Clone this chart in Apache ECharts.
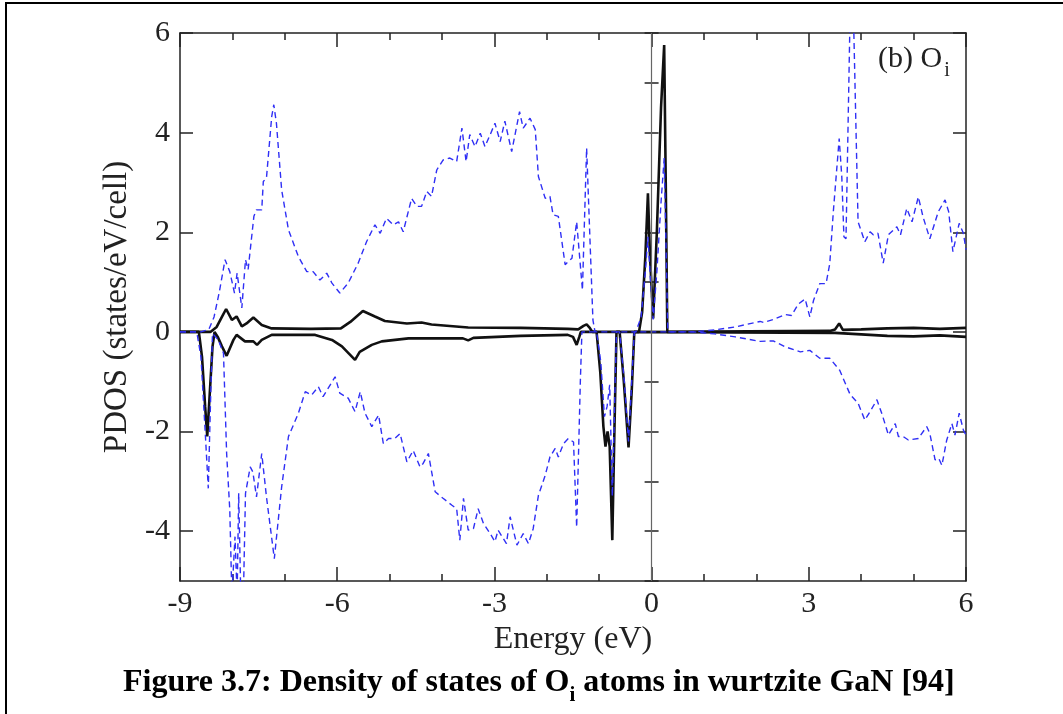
<!DOCTYPE html>
<html>
<head>
<meta charset="utf-8">
<script src="https://cdn.jsdelivr.net/npm/echarts@6/dist/echarts.min.js"></script>
<style>
  html, body { margin: 0; padding: 0; background: #fff; }
  #wrap { position: relative; width: 1063px; height: 714px; overflow: hidden; }
  #chart { position: absolute; left: 0; top: 0; width: 1063px; height: 714px; }
  #frame { position: absolute; left: 5px; top: 2px; width: 1100px; height: 800px;
           border-left: 2px solid #000; border-top: 2px solid #000; pointer-events: none; }
</style>
</head>
<body>
<div id="wrap">
  <div id="chart"></div>
  <div id="frame"></div>
</div>
<script>
// ---- Data ----
const xTicks = [-9, -6, -3, 0, 3, 6];
const yTickLabels = [-4, -2, 0, 2, 4, 6];

// Total PDOS, spin up (blue dashed, positive)
const totUpE = [-9.0,-8.6,-8.45,-8.35,-8.25,-8.14,-8.05,-7.96,-7.91,-7.82,-7.75,-7.70,-7.59,-7.54,-7.44,-7.41,-7.35,-7.25,-7.21,-7.16,-7.06,-6.93,-6.74,-6.58,-6.46,-6.33,-6.20,-6.10,-5.95,-5.79,-5.60,-5.44,-5.28,-5.18,-5.06,-4.93,-4.83,-4.74,-4.58,-4.48,-4.39,-4.29,-4.20,-4.10,-3.98,-3.85,-3.72,-3.62,-3.54,-3.47,-3.37,-3.27,-3.18,-3.08,-2.99,-2.89,-2.80,-2.67,-2.52,-2.45,-2.32,-2.22,-2.16,-2.03,-1.94,-1.88,-1.78,-1.65,-1.52,-1.43,-1.32,-1.24,-1.12,-1.08,-0.30,-0.20,-0.12,-0.07,-0.02,0.03,0.10,0.18,0.24,0.28,0.31,0.80,1.20,1.60,2.07,2.14,2.35,2.55,2.67,2.80,2.93,3.02,3.09,3.21,3.33,3.40,3.47,3.58,3.63,3.67,3.71,3.79,3.83,3.86,3.94,4.07,4.17,4.23,4.32,4.42,4.52,4.68,4.75,4.87,4.97,5.09,5.18,5.31,5.47,5.60,5.67,5.75,5.87,5.95,6.0];
const totUpV = [0,0,0.05,0.3,0.8,1.45,1.21,0.78,1.18,0.48,1.45,1.25,2.32,2.45,2.45,3.02,3.09,4.32,4.56,4.19,2.85,2.05,1.51,1.21,1.21,1.04,1.18,0.98,0.78,0.98,1.38,1.81,2.15,1.98,2.28,2.15,2.21,2.01,2.68,2.52,2.52,2.82,2.72,3.25,3.45,3.49,3.42,4.09,3.42,3.96,3.72,3.99,3.72,3.96,4.19,3.82,4.23,3.62,4.42,4.09,4.29,4.06,3.12,2.68,2.72,2.35,2.32,1.35,1.48,2.21,0.84,3.69,0.24,0,0,0.3,1.2,1.91,1.0,0.25,1.2,2.6,3.49,1.5,0,0,0.04,0.1,0.21,0.19,0.26,0.35,0.33,0.56,0.66,0.30,0.63,0.97,0.97,1.37,2.44,3.88,3.11,1.91,1.87,6.5,6.6,6.0,2.21,1.81,2.01,1.95,1.98,1.38,1.95,2.11,1.95,2.48,2.21,2.71,2.31,1.87,2.41,2.65,2.41,1.61,2.18,1.98,1.65];

// Total PDOS, spin down (blue dashed, negative)
const totDnE = [-9.0,-8.68,-8.60,-8.53,-8.46,-8.42,-8.38,-8.27,-8.17,-8.11,-8.05,-8.01,-7.95,-7.91,-7.88,-7.84,-7.79,-7.75,-7.66,-7.61,-7.54,-7.44,-7.35,-7.20,-7.06,-6.93,-6.74,-6.61,-6.49,-6.36,-6.27,-6.04,-5.95,-5.79,-5.66,-5.56,-5.47,-5.34,-5.21,-5.12,-5.02,-4.90,-4.80,-4.67,-4.55,-4.42,-4.36,-4.26,-4.13,-3.98,-3.81,-3.72,-3.66,-3.59,-3.50,-3.40,-3.31,-3.21,-3.08,-2.99,-2.93,-2.77,-2.70,-2.57,-2.45,-2.35,-2.26,-2.16,-2.03,-1.94,-1.84,-1.78,-1.68,-1.59,-1.49,-1.43,-1.36,-1.33,-1.05,-0.97,-0.90,-0.85,-0.80,-0.75,-0.70,-0.67,-0.61,-0.52,-0.44,-0.38,-0.33,0.80,1.20,1.60,2.07,2.32,2.55,2.84,3.02,3.21,3.40,3.59,3.79,3.94,4.07,4.17,4.30,4.40,4.52,4.65,4.71,4.80,4.90,5.09,5.25,5.31,5.41,5.48,5.54,5.63,5.73,5.79,5.87,5.95,6.0];
const totDnV = [0,0,-0.5,-1.8,-3.14,-1.5,-0.03,-0.16,-0.43,-2.44,-3.57,-5.3,-4.11,-5.3,-3.24,-5.3,-5.3,-3.24,-2.71,-2.81,-3.31,-2.44,-3.31,-4.55,-3.11,-2.10,-1.63,-1.20,-1.27,-1.10,-1.30,-0.90,-1.23,-1.33,-1.60,-1.20,-1.63,-1.90,-1.67,-2.24,-2.14,-2.14,-2.04,-2.61,-2.38,-2.71,-2.64,-2.44,-3.21,-3.34,-3.48,-3.55,-4.18,-3.34,-3.98,-3.95,-3.55,-3.84,-4.05,-4.21,-3.98,-4.25,-3.71,-4.28,-4.05,-4.25,-3.95,-3.28,-2.88,-2.51,-2.34,-2.51,-2.24,-2.14,-2.21,-3.92,-1.0,0,0,-0.6,-1.7,-1.5,-1.06,-3.3,-1.2,0,0,-1.0,-2.2,-1.0,0,0,-0.04,-0.1,-0.19,-0.18,-0.30,-0.40,-0.37,-0.53,-0.53,-0.77,-1.26,-1.43,-1.77,-1.60,-1.36,-1.66,-2.07,-1.84,-2.10,-2.10,-2.17,-2.14,-1.90,-2.04,-2.57,-2.54,-2.68,-2.18,-1.84,-2.07,-1.63,-1.97,-2.07];

// O_i PDOS, spin up (black solid, positive)
const oUpE = [-9.0,-8.42,-8.30,-8.20,-8.12,-8.01,-7.92,-7.82,-7.73,-7.60,-7.44,-7.25,-6.50,-5.93,-5.75,-5.51,-5.28,-5.09,-4.67,-4.39,-4.20,-3.50,-2.50,-1.60,-1.40,-1.30,-1.24,-1.18,-1.13,-0.24,-0.18,-0.12,-0.07,-0.03,0.03,0.10,0.18,0.24,0.27,0.30,3.40,3.50,3.58,3.65,4.00,4.50,5.00,5.50,6.0];
const oUpV = [0,0,0.1,0.3,0.46,0.24,0.31,0.11,0.17,0.29,0.14,0.07,0.06,0.07,0.2,0.42,0.31,0.22,0.17,0.19,0.15,0.09,0.08,0.06,0.05,0.12,0.15,0.08,0,0,0.4,1.5,2.78,1.5,0.27,2.0,4.5,5.76,3.0,0,0.02,0.05,0.17,0.04,0.05,0.07,0.08,0.06,0.08];

// O_i PDOS, spin down (black solid, negative)
const oDnE = [-9.0,-8.64,-8.58,-8.52,-8.48,-8.43,-8.38,-8.34,-8.28,-8.20,-8.11,-7.98,-7.92,-7.76,-7.60,-7.53,-7.44,-7.25,-6.42,-6.10,-5.91,-5.66,-5.57,-5.34,-5.15,-4.64,-4.33,-4.01,-3.60,-3.50,-3.40,-2.50,-1.60,-1.50,-1.43,-1.38,-1.35,-1.05,-0.98,-0.92,-0.88,-0.84,-0.80,-0.75,-0.71,-0.67,-0.61,-0.53,-0.44,-0.38,-0.33,3.50,4.00,4.50,5.00,5.50,6.0];
const oDnV = [0,0,-0.5,-1.5,-2.10,-1.2,-0.3,0,-0.1,-0.29,-0.48,-0.16,-0.06,-0.19,-0.19,-0.26,-0.16,-0.06,-0.06,-0.16,-0.29,-0.56,-0.40,-0.26,-0.19,-0.13,-0.13,-0.13,-0.13,-0.17,-0.12,-0.08,-0.06,-0.1,-0.26,-0.1,0,0,-0.8,-1.9,-2.30,-2.0,-2.3,-4.18,-2.0,0,0,-1.0,-2.32,-1.2,0,-0.02,-0.05,-0.08,-0.09,-0.07,-0.1];

const panelLabel = '(b) O';
const panelSub = 'i';
const captionMain = 'Figure 3.7: Density of states of O';
const captionSub = 'i';
const captionRest = ' atoms in wurtzite GaN [94]';

// ---- Build chart ----
function pairs(e, v) { return e.map((x, i) => [x, v[i]]); }
const serif = '"Liberation Serif", "Times New Roman", "DejaVu Serif", serif';
const txt = '#222';
const axisCol = '#222';

function xAxisDef(pos, showLabel) {
  return {
    type: 'value', position: pos, min: -9, max: 6, interval: 3,
    axisLine: { show: true, onZero: false, lineStyle: { color: axisCol, width: 1.5 } },
    axisTick: { show: true, inside: true, length: 14, lineStyle: { color: axisCol, width: 1.5 } },
    minorTick: { show: true, splitNumber: 3, length: 7, lineStyle: { color: axisCol, width: 1.5 } },
    splitLine: { show: false },
    axisLabel: { show: showLabel, fontFamily: serif, fontSize: 30, color: txt, margin: 8 },
    name: showLabel ? 'Energy (eV)' : '',
    nameLocation: 'middle', nameGap: 32,
    nameTextStyle: { fontFamily: serif, fontSize: 32, color: txt }
  };
}
function yAxisMajor(pos, showLabel) {
  return {
    type: 'value', position: pos, min: -5, max: 6, interval: 1,
    axisLine: { show: true, onZero: false, lineStyle: { color: axisCol, width: 1.5 } },
    axisTick: { show: true, inside: true, length: 13, customValues: yTickLabels, lineStyle: { color: axisCol, width: 1.5 } },
    splitLine: { show: false },
    axisLabel: { show: showLabel, customValues: yTickLabels, fontFamily: serif, fontSize: 30, color: txt, margin: 10,
                 formatter: v => (Math.round(v) % 2 === 0 ? String(v) : '') },
    name: showLabel ? 'PDOS (states/eV/cell)' : '',
    nameLocation: 'middle', nameGap: 41, nameRotate: 90,
    nameTextStyle: { fontFamily: serif, fontSize: 33, color: txt }
  };
}
function yAxisMinor(pos) {
  return {
    type: 'value', position: pos, min: -5, max: 6, interval: 1,
    axisLine: { show: false },
    axisTick: { show: true, inside: true, length: 7, lineStyle: { color: axisCol, width: 1.5 } },
    splitLine: { show: false },
    axisLabel: { show: false }
  };
}

const chart = echarts.init(document.getElementById('chart'), null, { renderer: 'canvas' });
const blue = '#2f2ff5';
const option = {
  backgroundColor: '#fff',
  animation: false,
  grid: { left: 180, top: 33, right: 97, bottom: 133, containLabel: false },
  xAxis: [xAxisDef('bottom', true), xAxisDef('top', false)],
  yAxis: [yAxisMajor('left', true), yAxisMinor('left'), yAxisMajor('right', false), yAxisMinor('right')],
  series: [
    { type: 'line', data: pairs(oUpE, oUpV), showSymbol: false, symbol: 'none',
      lineStyle: { color: '#111', width: 2.6 }, z: 3,
      markLine: { silent: true, symbol: 'none', label: { show: false },
        lineStyle: { color: '#666', width: 1.2, type: 'solid' }, data: [{ xAxis: 0 }] } },
    { type: 'line', data: pairs(oDnE, oDnV), showSymbol: false, symbol: 'none',
      lineStyle: { color: '#111', width: 2.6 }, z: 3 },
    { type: 'line', data: pairs(totUpE, totUpV), showSymbol: false, symbol: 'none',
      lineStyle: { color: blue, width: 1.4, type: [6, 4] }, z: 4 },
    { type: 'line', data: pairs(totDnE, totDnV), showSymbol: false, symbol: 'none',
      lineStyle: { color: blue, width: 1.4, type: [6, 4] }, z: 4 }
  ],
  graphic: [
    { type: 'text', left: 878, top: 44, z: 10,
      style: { text: '{m|' + panelLabel + '}{s|' + panelSub + '}',
        rich: { m: { fontFamily: serif, fontSize: 30, fill: txt, lineHeight: 36 },
                s: { fontFamily: serif, fontSize: 20, fill: txt, lineHeight: 20, verticalAlign: 'bottom', padding: [0, 0, -4, 2] } } } },
    { type: 'text', left: 123, top: 667, z: 10,
      style: { text: '{m|' + captionMain + '}{s|' + captionSub + '}{m|' + captionRest + '}',
        rich: { m: { fontFamily: serif, fontSize: 32, fontWeight: 'bold', fill: '#000', lineHeight: 38 },
                s: { fontFamily: serif, fontSize: 21, fontWeight: 'bold', fill: '#000', lineHeight: 21, verticalAlign: 'bottom', padding: [0, 0, -4, 0] } } } }
  ]
};
chart.setOption(option);
</script>
</body>
</html>
